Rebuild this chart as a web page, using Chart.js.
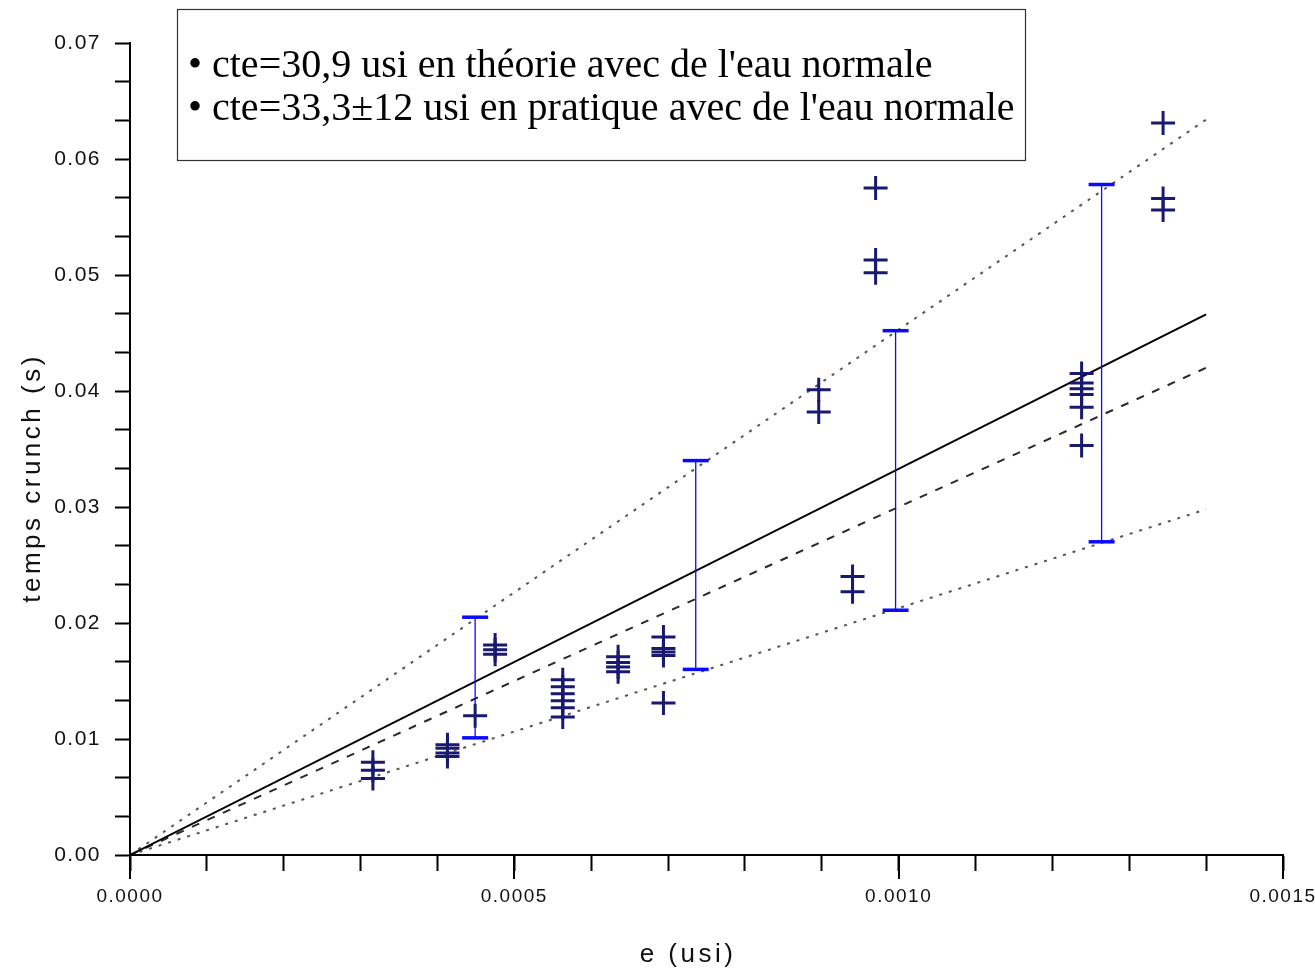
<!DOCTYPE html>
<html><head><meta charset="utf-8">
<script src="https://cdn.jsdelivr.net/npm/chart.js@4"></script>
<style>html,body{margin:0;padding:0;background:#fff;overflow:hidden}#wrap{width:1315px;height:973px;position:relative}</style>
</head><body><div id="wrap"><canvas id="c" width="1315" height="973"></canvas></div>
<script>
// ---- data ----
const measE = [0.000316,0.000316,0.000316,
  0.000413,0.000413,0.000413,0.000413,
  0.000449,
  0.000475,0.000475,0.000475,
  0.000563,0.000563,0.000563,0.000563,0.000563,0.000563,
  0.000635,0.000635,0.000635,0.000635,
  0.000694,0.000694,0.000694,0.000694,0.000694,
  0.000896,0.000896,
  0.000940,0.000940,
  0.000970,0.000970,0.000970,
  0.001238,0.001238,0.001238,0.001238,0.001238,0.001238,
  0.001344,0.001344,0.001344];
const measT = [0.0080,0.0073,0.0066,
  0.0095,0.0092,0.0088,0.0085,
  0.0120,
  0.0181,0.0177,0.0173,
  0.0151,0.0145,0.0139,0.0133,0.0127,0.0119,
  0.0171,0.0166,0.0162,0.0158,
  0.0188,0.0178,0.0175,0.0172,0.0131,
  0.0401,0.0382,
  0.0240,0.0227,
  0.0575,0.0513,0.0502,
  0.0415,0.0407,0.0402,0.0397,0.0386,0.0353,
  0.0631,0.0566,0.0556];
const errE = [0.000449,0.000736,0.000996,0.001264];
const errLow = [0.0101,0.0160,0.0211,0.0270];
const errHigh = [0.0205,0.0340,0.0452,0.0578];
const fitE = [0,0.0014];
const fitPractice = [0,0.0466];
const fitTheory = [0,0.0420];
const fitUpper = [0,0.0634];
const fitLower = [0,0.0298];
const xTickLabels = ['0.0000','0.0005','0.0010','0.0015'];
const yTickLabels = ['0.00','0.01','0.02','0.03','0.04','0.05','0.06','0.07'];
const legendLines = ["\u2022 cte=30,9 usi en th\u00e9orie avec de l'eau normale",
                     "\u2022 cte=33,3\u00b112 usi en pratique avec de l'eau normale"];
const xTitle = 'e (usi)';
const yTitle = 'temps crunch (s)';

const pts = (xs, ys) => xs.map((x,i)=>({x:x, y:ys[i]}));

const datasets = [
  {type:'scatter', label:'mesures', data:pts(measE,measT), pointStyle:'cross', pointRadius:12,
   pointHoverRadius:12, borderColor:'#191970', backgroundColor:'#191970', borderWidth:3, order:0},
  {type:'line', label:'pratique', data:pts(fitE,fitPractice), borderColor:'#000', borderWidth:2, pointRadius:0, order:3},
  {type:'line', label:'theorie', data:pts(fitE,fitTheory), borderColor:'#2a2a2a', borderWidth:2, borderDash:[8,9], pointRadius:0, order:3},
  {type:'line', label:'haut', data:pts(fitE,fitUpper), borderColor:'#555', borderWidth:2, borderDash:[3,7], pointRadius:0, order:3},
  {type:'line', label:'bas', data:pts(fitE,fitLower), borderColor:'#555', borderWidth:2, borderDash:[3,7], pointRadius:0, order:3}
];
errE.forEach((e,i)=>{
  datasets.push({type:'line', label:'err'+i, data:[{x:e,y:errLow[i]},{x:e,y:errHigh[i]}],
    borderColor:'#0a0aff', borderWidth:1.3, pointStyle:'line', pointRadius:13, pointHoverRadius:13,
    pointBorderColor:'#0a0aff', pointBorderWidth:3.5, order:1});
});

const deco = {
  id:'deco',
  beforeDraw(chart){ chart.ctx.letterSpacing = '1.5px'; },
  afterDraw(chart){
    const ctx = chart.ctx;
    const xs = chart.scales.x;
    ctx.save();
    // longer major ticks on x axis
    ctx.strokeStyle = '#000'; ctx.lineWidth = 2;
    [0,0.0005,0.001,0.0015].forEach(v=>{
      const px = Math.round(xs.getPixelForValue(v));
      ctx.beginPath(); ctx.moveTo(px, chart.chartArea.bottom); ctx.lineTo(px, chart.chartArea.bottom+24); ctx.stroke();
    });
    // axis titles
    ctx.fillStyle = '#111';
    ctx.font = '26px "Liberation Sans", Arial, sans-serif';
    ctx.letterSpacing = '3.5px';
    ctx.textAlign = 'center'; ctx.textBaseline = 'middle';
    ctx.fillText(xTitle, 688, 955);
    ctx.save();
    ctx.translate(33, 478); ctx.rotate(-Math.PI/2);
    ctx.fillText(yTitle, 0, 0);
    ctx.restore();
    ctx.letterSpacing = '0px';
    // text box
    ctx.fillStyle = '#fff';
    ctx.fillRect(177, 9, 848, 151);
    ctx.strokeStyle = '#333'; ctx.lineWidth = 1.2;
    ctx.strokeRect(177.5, 9.5, 848, 151);
    ctx.fillStyle = '#000';
    ctx.font = '40px "Liberation Serif", "Times New Roman", serif';
    ctx.textAlign = 'left'; ctx.textBaseline = 'alphabetic';
    ctx.fillText(legendLines[0], 188, 77);
    ctx.fillText(legendLines[1], 188, 120);
    ctx.restore();
  }
};

new Chart(document.getElementById('c'), {
  data:{datasets},
  options:{
    responsive:false, animation:false, devicePixelRatio:1,
    layout:{padding:{top:43,right:32,left:0,bottom:0}, autoPadding:false},
    plugins:{legend:{display:false}, tooltip:{enabled:false}},
    scales:{
      x:{type:'linear', min:0, max:0.0015,
        afterBuildTicks(s){ s.ticks = Array.from({length:16},(_,i)=>({value:i/10000})); },
        afterFit(s){ s.height = 118; s.paddingLeft = 0; s.paddingRight = 0; },
        ticks:{autoSkip:false, maxRotation:0, padding:14, color:'#111',
          font:{family:'"Liberation Sans", Arial, sans-serif', size:19},
          callback:(v,i)=> i%5===0 ? xTickLabels[i/5] : ''},
        grid:{display:true, drawOnChartArea:false, drawTicks:true, tickLength:16, tickColor:'#000', tickWidth:2},
        border:{display:true, color:'#000', width:2}
      },
      y:{type:'linear', min:0, max:0.07,
        afterBuildTicks(s){ s.ticks = Array.from({length:22},(_,i)=>({value:i/300})); },
        afterFit(s){ s.width = 130; s.paddingTop = 0; s.paddingBottom = 0; },
        ticks:{autoSkip:false, padding:14, color:'#111',
          font:{family:'"Liberation Sans", Arial, sans-serif', size:21},
          callback:(v,i)=> i%3===0 ? yTickLabels[i/3] : ''},
        grid:{display:true, drawOnChartArea:false, drawTicks:true, tickLength:15, tickColor:'#000', tickWidth:2},
        border:{display:true, color:'#000', width:2}
      }
    }
  },
  plugins:[deco]
});
</script></body></html>
